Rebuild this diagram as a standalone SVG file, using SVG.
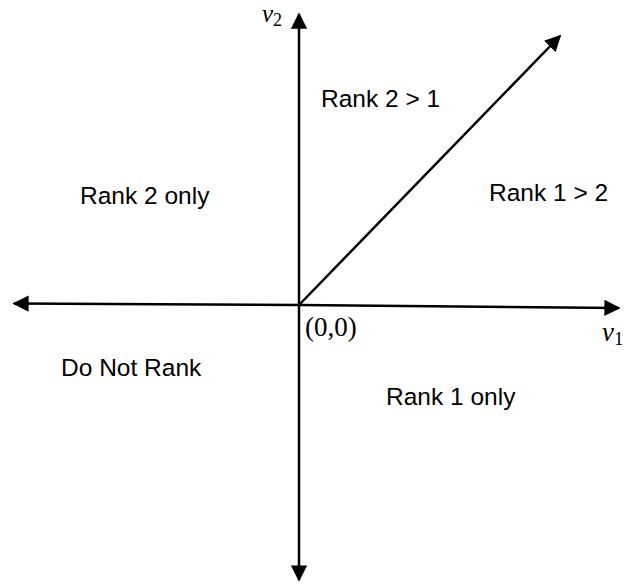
<svg xmlns="http://www.w3.org/2000/svg" width="639" height="588" viewBox="0 0 639 588">
<style>
.ax{stroke:#000;stroke-width:2.5;fill:none}
.lbl{font-family:"Liberation Sans",Arial,sans-serif;font-size:24.5px;fill:#000}
.math{font-family:"Liberation Serif","DejaVu Serif",serif;fill:#000}
</style>
<defs>
<marker id="ah" viewBox="0 0 10 10" refX="9" refY="5" markerWidth="6.5" markerHeight="6.5" orient="auto" markerUnits="strokeWidth">
<path d="M0,0 L10,5 L0,10 Z" fill="#000"/>
</marker>
</defs>
<rect width="639" height="588" fill="#fff"/>
<g id="connectors">
<line class="ax" x1="299" y1="305" x2="299" y2="14" marker-end="url(#ah)"/>
<line class="ax" x1="299" y1="305" x2="299" y2="580" marker-end="url(#ah)"/>
<line class="ax" x1="299" y1="305" x2="14" y2="303.5" marker-end="url(#ah)"/>
<line class="ax" x1="299" y1="305" x2="619" y2="308" marker-end="url(#ah)"/>
<line class="ax" x1="299" y1="305" x2="560" y2="36" marker-end="url(#ah)"/>
</g>
<g id="axis-v2"><text class="math" x="262" y="22" font-size="25" font-style="italic">v<tspan font-size="18" font-style="normal" dy="4">2</tspan></text></g>
<g id="axis-v1"><text class="math" x="602" y="341" font-size="27" font-style="italic">v<tspan font-size="19" font-style="normal" dy="4">1</tspan></text></g>
<g id="origin"><text class="math" x="305" y="336" font-size="27">(0,0)</text></g>
<g id="r21"><text class="lbl" x="321" y="107">Rank 2 &gt; 1</text></g>
<g id="r2only"><text class="lbl" x="80" y="204">Rank 2 only</text></g>
<g id="r12"><text class="lbl" x="489" y="201">Rank 1 &gt; 2</text></g>
<g id="dnr"><text class="lbl" x="61" y="376">Do Not Rank</text></g>
<g id="r1only"><text class="lbl" x="386" y="405">Rank 1 only</text></g>
</svg>
